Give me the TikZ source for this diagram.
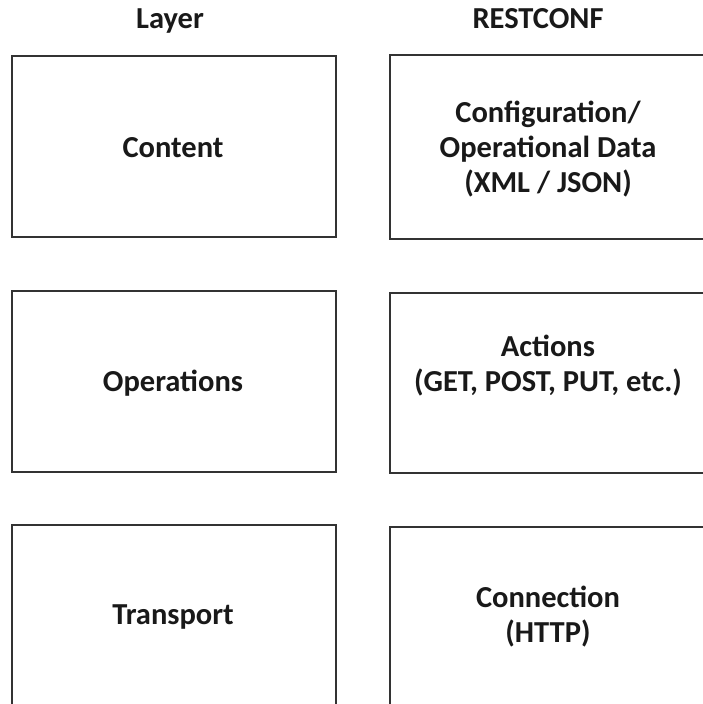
\documentclass[tikz,border=0pt]{standalone}
\usepackage{fontspec}
\setmainfont{Carlito}
\begin{document}
\begin{tikzpicture}[x=1pt,y=-1pt,
  layerbox/.style={draw=black!80,line width=1.6pt},
  lbl/.style={font=\bfseries\fontsize{30.5}{35}\selectfont,align=center,text=black!90,anchor=base,inner sep=0pt}]
\useasboundingbox (0,0) rectangle (703,704);
% column headings
\node[lbl] (hl) at (170,28) {Layer};
\node[lbl] (hr) at (538,28) {RESTCONF};
% left column
\draw[layerbox] (12,56) rectangle (336,237);
\draw[layerbox] (12,291) rectangle (336,472);
\draw[layerbox] (12,525) rectangle (336,720);
% right column, running past the right edge
\draw[layerbox] (390,55) rectangle (720,239);
\draw[layerbox] (390,293) rectangle (720,473);
\draw[layerbox] (390,527) rectangle (720,720);
% box texts (base = baseline of the last line)
\node[lbl] (content) at (173,157) {Content};
\node[lbl] (ops) at (173,391) {Operations};
\node[lbl] (trans) at (173,624) {Transport};
\node[lbl] (data) at (548,192) {Configuration/\\Operational Data\\(XML / JSON)};
\node[lbl] (act) at (548,391) {Actions\\(GET, POST, PUT, etc.)};
\node[lbl] (conn) at (548,642) {Connection\\(HTTP)};
\end{tikzpicture}
\end{document}
